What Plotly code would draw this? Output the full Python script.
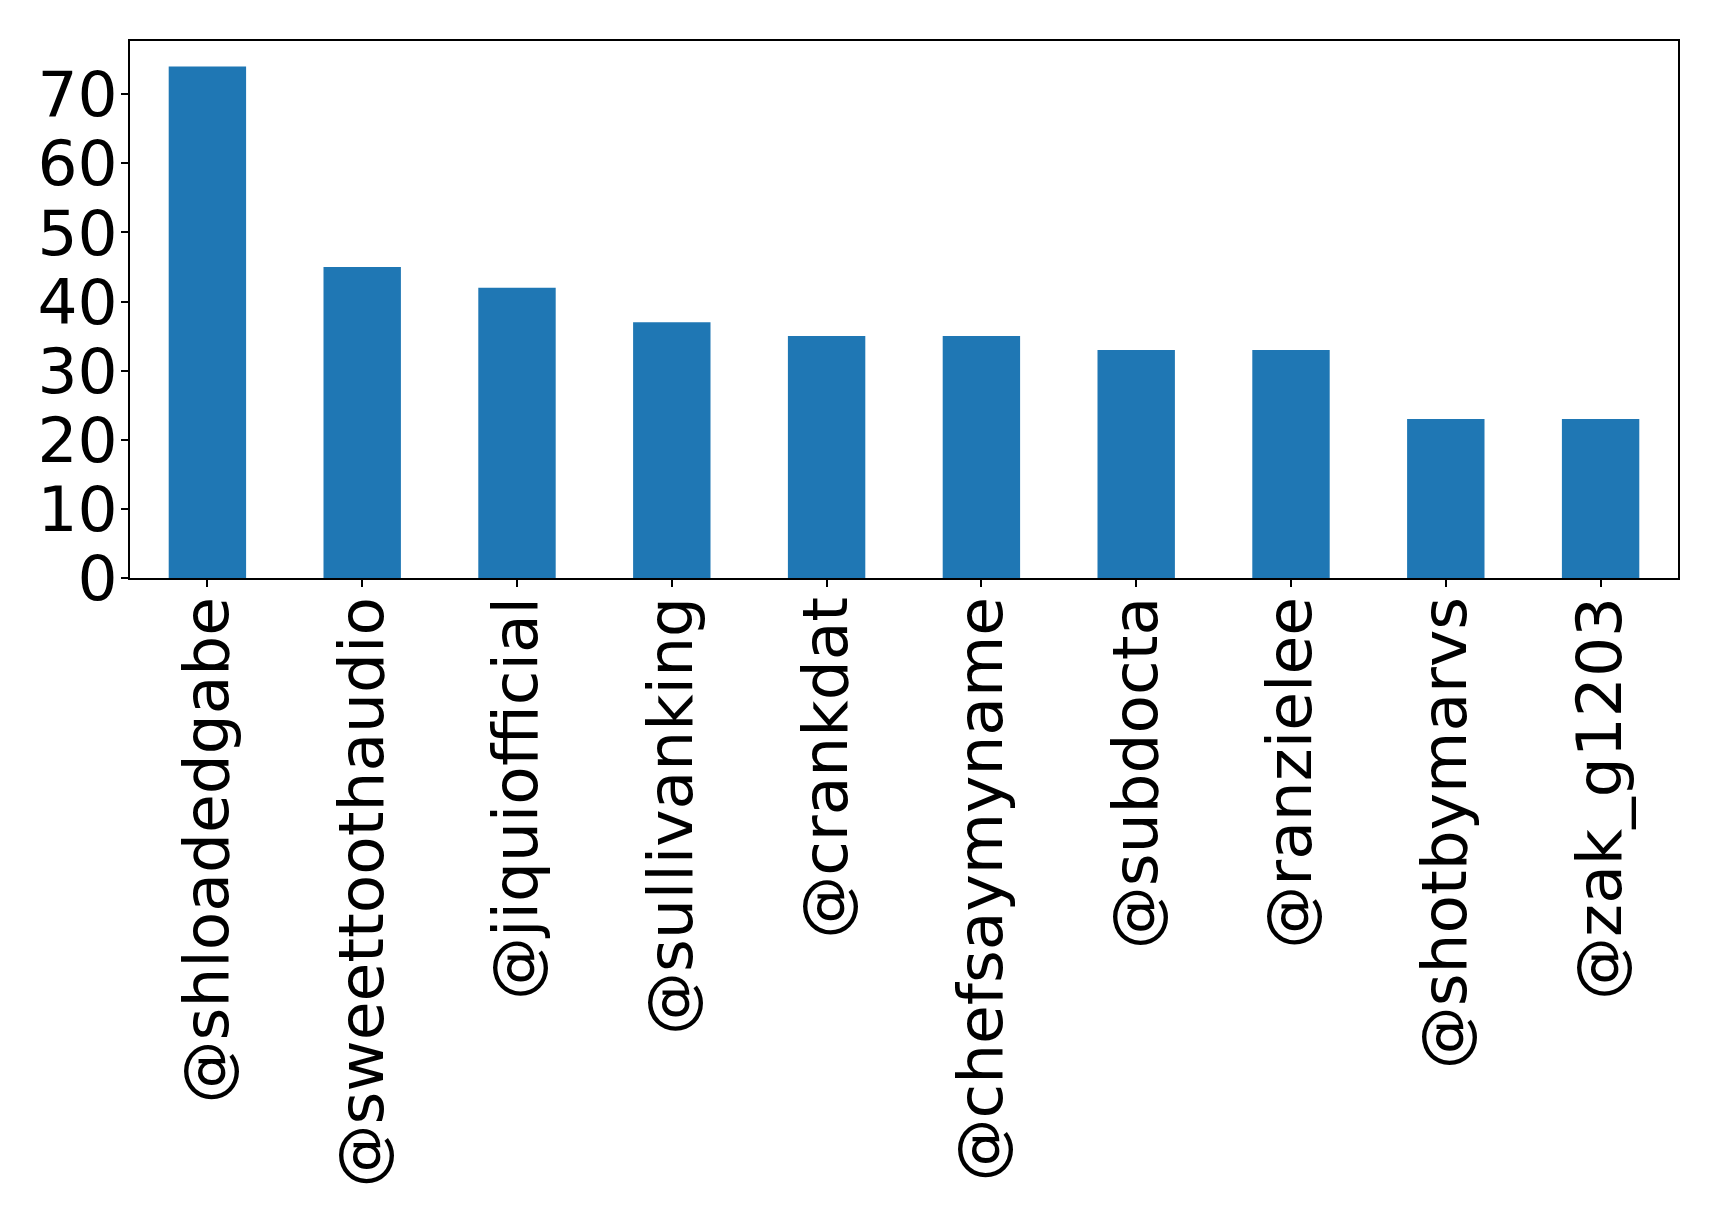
import plotly.graph_objects as go

categories = ["@shloadedgabe", "@sweettoothaudio", "@jiquiofficial", "@sullivanking",
              "@crankdat", "@chefsaymyname", "@subdocta", "@ranzielee",
              "@shotbymarvs", "@zak_g1203"]
values = [74, 45, 42, 37, 35, 35, 33, 33, 23, 23]
y_ticks = [0, 10, 20, 30, 40, 50, 60, 70]

fig = go.Figure(go.Bar(x=categories, y=values, marker=dict(color="#1f77b4", line=dict(width=0))))

font = dict(family="DejaVu Sans", size=63, color="black")
fig.update_layout(
    width=1719, height=1214,
    margin=dict(l=122, r=49, t=33, b=644, autoexpand=False),
    paper_bgcolor="white", plot_bgcolor="white",
    bargap=0.5, showlegend=False, font=font,
)
fig.update_xaxes(
    range=[-0.5, 9.5], tickangle=-90, ticks="outside", ticklen=7, tickwidth=1.5,
    tickcolor="black", showline=True, linecolor="black", linewidth=1.5, mirror=True,
    showgrid=False, tickfont=font, automargin=False, ticklabelstandoff=-15,
)
fig.update_yaxes(
    range=[0, 77.7], tickvals=y_ticks, ticks="outside", ticklen=7, tickwidth=1.5,
    tickcolor="black", showline=True, linecolor="black", linewidth=1.5, mirror=True,
    showgrid=False, zeroline=False, tickfont=font, automargin=False, ticklabelstandoff=-9,
)
fig.write_html("out.html")
